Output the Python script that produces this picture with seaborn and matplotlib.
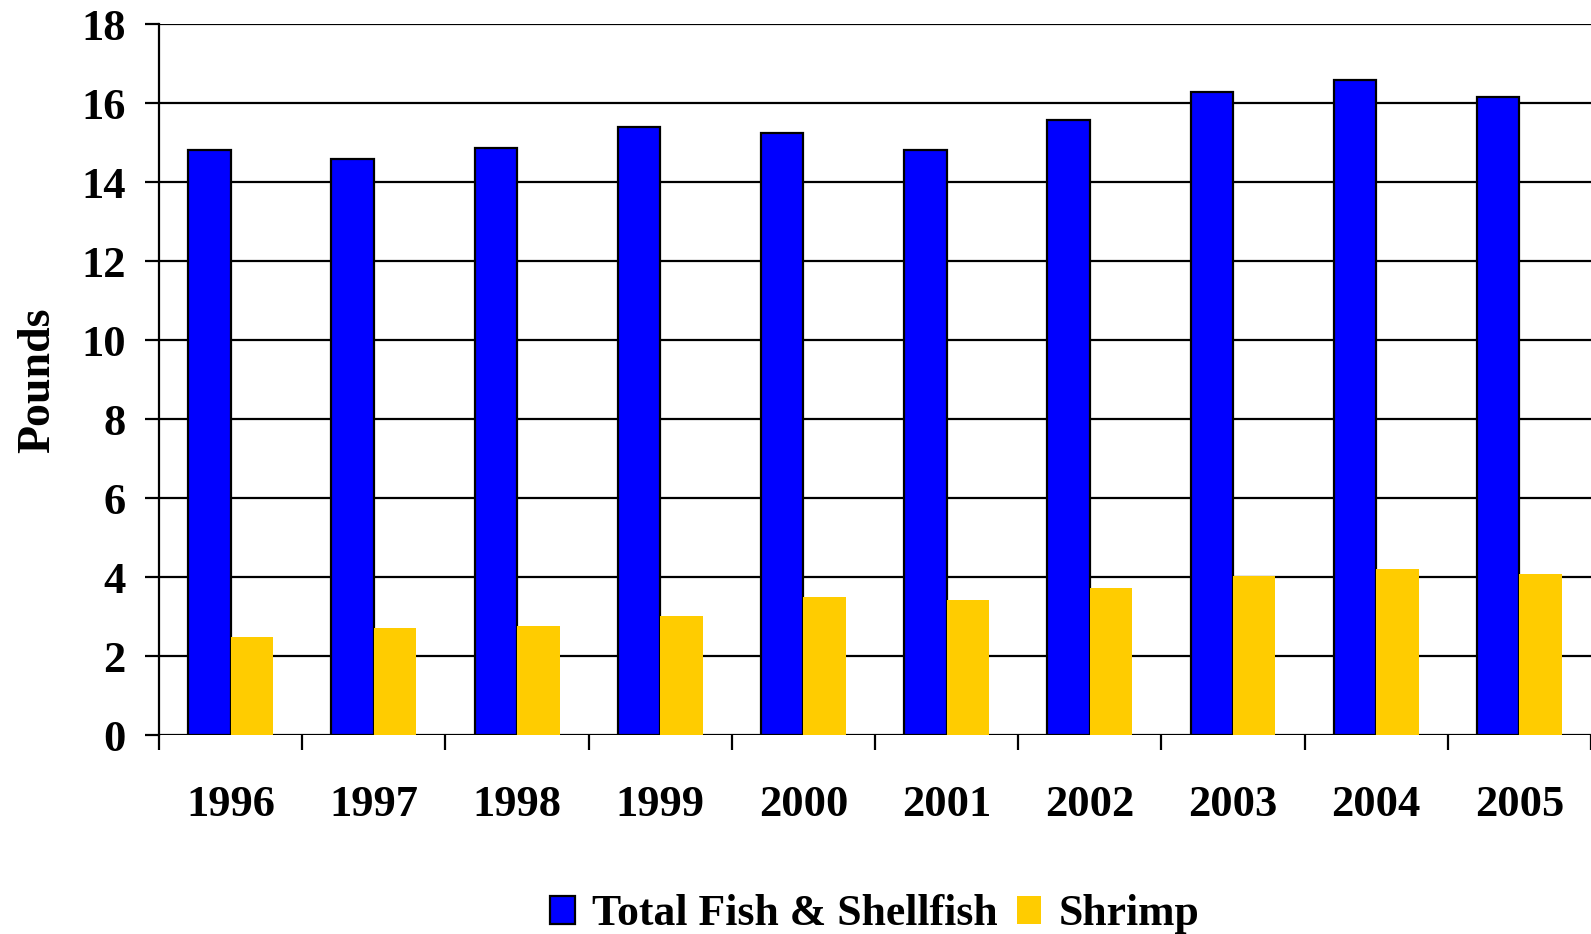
import matplotlib
matplotlib.use("Agg")
import matplotlib.pyplot as plt
import seaborn as sns
import pandas as pd
from matplotlib.ticker import FixedLocator, MultipleLocator

years = ["1996", "1997", "1998", "1999", "2000", "2001", "2002", "2003", "2004", "2005"]
total_fish = [14.82, 14.58, 14.87, 15.40, 15.25, 14.82, 15.58, 16.30, 16.60, 16.17]
shrimp = [2.49, 2.72, 2.78, 3.01, 3.50, 3.42, 3.73, 4.04, 4.20, 4.08]
series_names = ["Total Fish & Shellfish", "Shrimp"]
colors = ["#0000FF", "#FFCC00"]

df = pd.DataFrame({
    "Year": years * 2,
    "Pounds": total_fish + shrimp,
    "Series": [series_names[0]] * len(years) + [series_names[1]] * len(years),
})

sns.set_style("white")
plt.rcParams["font.family"] = ["Liberation Serif", "DejaVu Serif"]
plt.rcParams["font.weight"] = "bold"
plt.rcParams["text.color"] = "black"
plt.rcParams["axes.labelcolor"] = "black"
plt.rcParams["xtick.color"] = "black"
plt.rcParams["ytick.color"] = "black"

fig = plt.figure(figsize=(15.91, 9.34), dpi=100)
ax = fig.add_axes([0.1, 0.2127, 0.9, 0.7612])

sns.barplot(data=df, x="Year", y="Pounds", hue="Series", palette=colors,
            width=0.593, ax=ax, legend=False, saturation=1, zorder=3)

for p in ax.containers[0]:
    p.set_edgecolor("black")
    p.set_linewidth(1.6)
for p in ax.containers[1]:
    p.set_edgecolor("none")
    p.set_linewidth(0)

ax.set_ylim(0, 18)
ax.set_xlim(-0.5, len(years) - 0.5)
ax.yaxis.set_major_locator(MultipleLocator(2))
ax.grid(axis="y", color="black", linewidth=1.6, zorder=0)
ax.grid(axis="x", visible=False)
ax.set_axisbelow(True)

for s in ["top", "right", "bottom"]:
    ax.spines[s].set_visible(False)
ax.spines["left"].set_color("black")
ax.spines["left"].set_linewidth(1.6)

ax.xaxis.set_minor_locator(FixedLocator([i - 0.5 for i in range(len(years) + 1)]))
ax.tick_params(axis="x", which="major", length=0, pad=36, labelsize=32, labelcolor="black")
ax.tick_params(axis="x", which="minor", length=11, width=1.6, color="black", direction="out", bottom=True)
ax.tick_params(axis="y", which="major", length=10, width=1.6, color="black", direction="out",
               left=True, pad=14, labelsize=32, labelcolor="black")
for lab in ax.get_xticklabels() + ax.get_yticklabels():
    lab.set_fontweight("bold")

ax.set_xlabel("")
ax.set_ylabel("Pounds", fontsize=33, fontweight="bold", labelpad=16, color="black")

handles = [ax.containers[0], ax.containers[1]]
fig.legend(handles, series_names, loc="center", bbox_to_anchor=(0.55, 0.021), ncol=2,
           frameon=False, prop={"size": 31.5, "weight": "bold"}, labelcolor="black",
           handlelength=0.55, handleheight=0.64, handletextpad=0.4, columnspacing=0.45)

fig.savefig("out.png", dpi=100)
